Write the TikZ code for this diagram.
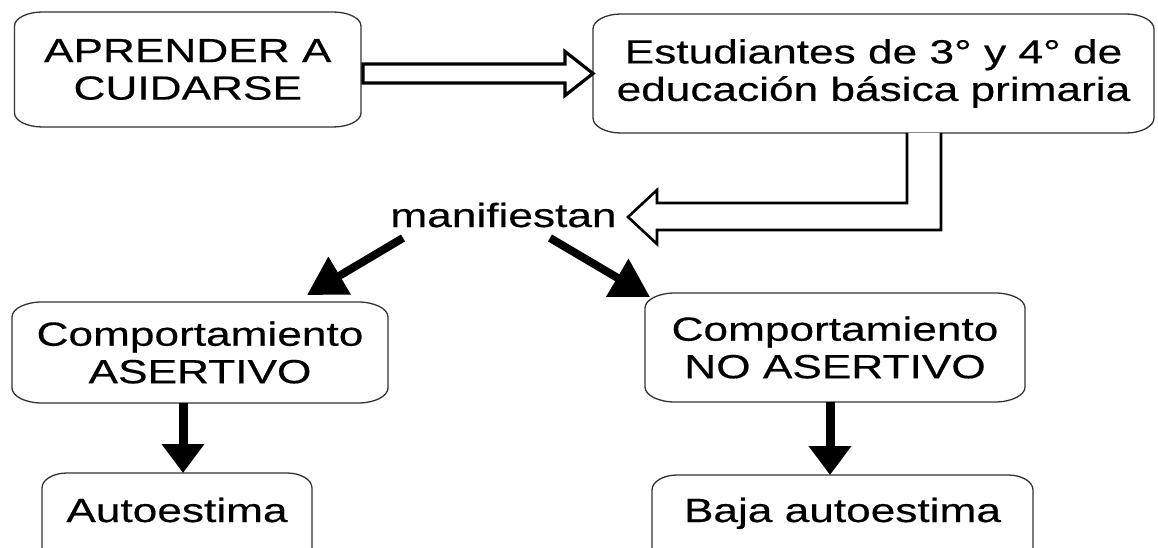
\documentclass[tikz,border=0pt]{standalone}
\usepackage{fontspec}
\newfontfamily\dfont[FakeStretch=1.32,FakeBold=0.4]{Liberation Sans}
\usetikzlibrary{arrows.meta,calc}
\newcommand\ovbox[3]{%
  \draw[boxline] ([xshift=#2]#1.north west) -- ([xshift=-#2]#1.north east)
    arc[start angle=90,end angle=0,x radius=#2,y radius=#3]
    -- ([yshift=#3]#1.south east)
    arc[start angle=0,end angle=-90,x radius=#2,y radius=#3]
    -- ([xshift=#2]#1.south west)
    arc[start angle=270,end angle=180,x radius=#2,y radius=#3]
    -- ([yshift=-#3]#1.north west)
    arc[start angle=180,end angle=90,x radius=#2,y radius=#3] -- cycle;}
\tikzset{
  boxline/.style={draw=black!80, line width=1.3pt, line join=round},
  txt/.style={font=\dfont\fontsize{33.5}{37.5}\selectfont, align=center,
    inner sep=0pt, outer sep=0pt, text=black},
  hollow/.style={draw=black, line width=3.2pt, fill=white, line join=miter},
  solidarr/.style={draw=black, line width=8pt, -{Triangle[length=38pt,width=42pt]}},
  downarr/.style={draw=black, line width=9pt, -{Triangle[length=29pt,width=41pt]}},
}
\begin{document}
\begin{tikzpicture}[x=1pt,y=1pt]
\useasboundingbox (0,0) rectangle (1158,-548);
\clip (0,0) rectangle (1158,-548);
\fill[white] (0,0) rectangle (1158,-548);

% nodes
\node[txt, minimum width=346.5pt, minimum height=115pt] (b1) at (187.75,-69.5) {APRENDER A\\CUIDARSE};
\node[txt, minimum width=561pt, minimum height=119pt] (b2) at (873.5,-73.5) {Estudiantes de 3° y 4° de\\educación básica primaria};
\node[txt, anchor=base] (m) at (503.5,-227) {manifiestan};
\node[txt, minimum width=376pt, minimum height=101pt] (b3) at (200,-352.5) {Comportamiento\\ASERTIVO};
\node[txt, minimum width=380pt, minimum height=109pt] (b5) at (835,-347.5) {Comportamiento\\NO ASERTIVO};
\node[txt, minimum width=270pt, minimum height=92pt, text height=24pt, text depth=18pt] (b4) at (177,-519) {Autoestima};
\node[txt, minimum width=381pt, minimum height=92pt, text height=22pt, text depth=20pt] (b6) at (842.5,-521) {Baja autoestima};

% outlines
\ovbox{b1}{28}{14}
\ovbox{b2}{28}{15}
\ovbox{b3}{30}{15}
\ovbox{b4}{25}{15}
\ovbox{b5}{30}{15}
\ovbox{b6}{25}{15}

% hollow arrow b1 -> b2
\path ($(b2.west)+(-28,9.5)$) coordinate (q2)
      ($(b2.west)+(-28,22)$) coordinate (q3)
      ($(b2.west)+(-28,-22)$) coordinate (q5)
      ($(b2.west)+(-28,-9.5)$) coordinate (q6);
\draw[hollow] ($(b1.east |- q2)+(2,0)$) -- (q2) -- (q3) -- (b2.west) -- (q5) -- (q6)
  -- ($(b1.east |- q6)+(2,0)$) -- cycle;

% bent hollow arrow b2 -> manifiestan
\path ($(b2.south)+(33.5,0)$) coordinate (p1)
      ($(b2.south)+(67.5,0)$) coordinate (p9)
      ($(m.base)+(124.5,10)$) coordinate (tp)
      ($(tp)+(29,14)$) coordinate (p3)
      ($(tp)+(29,27)$) coordinate (p4)
      ($(tp)+(29,-27)$) coordinate (p6)
      ($(tp)+(29,-13)$) coordinate (p7);
\draw[hollow, line width=2.6pt] (p1) -- (p1 |- p3) -- (p3) -- (p4) -- (tp) -- (p6) -- (p7)
  -- (p9 |- p7) -- (p9);

% solid arrows
\draw[solidarr] ([shift={(-100.5,-11)}]m.base) -- ([shift={(107,7)}]b3.north);
\draw[solidarr] ([shift={(46.5,-11)}]m.base) -- ([shift={(5,-4)}]b5.north west);
\draw[downarr] ($(b3.south -| b4.north)+(6,0)$) -- ($(b4.north)+(6,0)$);
\draw[downarr] ($(b5.south -| b6.north)+(-12.5,0)$) -- ($(b6.north)+(-12.5,0)$);
\end{tikzpicture}
\end{document}
